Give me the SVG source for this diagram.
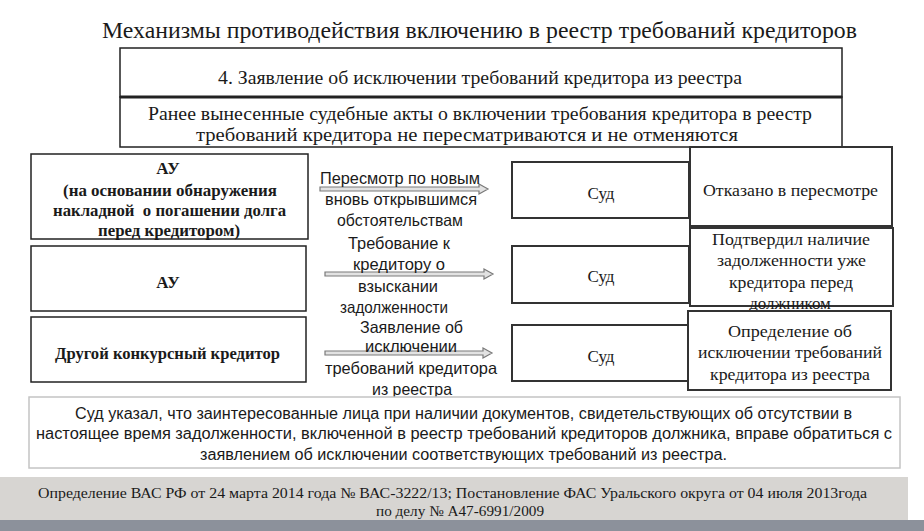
<svg xmlns="http://www.w3.org/2000/svg" width="924" height="531" viewBox="0 0 924 531">
<style>
.bx{fill:#fff;stroke:#222;stroke-width:1.5}
.rb{fill:#fff;stroke:#333;stroke-width:2}
.tm{font-family:"Liberation Serif","Times New Roman",serif;fill:#1a1a1a}
.bd{font-family:"Liberation Serif","Times New Roman",serif;font-weight:bold;fill:#1a1a1a;font-size:17px}
.sn{font-family:"Liberation Sans",Arial,sans-serif;fill:#1a1a1a}
.lbl{font-family:"Liberation Sans",Arial,sans-serif;fill:#1a1a1a;font-size:16.5px}
.arr{fill:#e2e2e2;stroke:#7a7a7a;stroke-width:1.2;stroke-linejoin:miter}
.c{text-anchor:middle}
</style>
<rect width="924" height="531" fill="#fff"/>
<text id="title" class="tm" font-family="Liberation Serif, Times New Roman, serif" x="102" y="38" font-size="23" textLength="755" lengthAdjust="spacingAndGlyphs">Механизмы противодействия включению в реестр требований кредиторов</text>

<g id="node-header" font-family="Liberation Serif, Times New Roman, serif">
<rect class="bx" x="120" y="48" width="722" height="49"/>
<text class="tm" x="218" y="84" font-size="18" textLength="524" lengthAdjust="spacingAndGlyphs">4. Заявление об исключении требований кредитора из реестра</text>
</g>
<g id="node-note" font-family="Liberation Serif, Times New Roman, serif">
<rect class="bx" x="120" y="97" width="722" height="50"/>
<line x1="120" y1="97" x2="842" y2="97" stroke="#222" stroke-width="2.8"/>
<text class="tm" x="148" y="120" font-size="18" textLength="664" lengthAdjust="spacingAndGlyphs">Ранее вынесенные судебные акты о включении требования кредитора в реестр</text>
<text class="tm" x="196" y="141" font-size="18" textLength="542" lengthAdjust="spacingAndGlyphs">требований кредитора не пересматриваются и не отменяются</text>
</g>

<g id="node-au1">
<rect class="bx" x="31" y="154" width="277" height="85"/>
<text class="bd c" x="168" y="174">АУ</text>
<text class="bd" x="63" y="196" textLength="214" lengthAdjust="spacingAndGlyphs">(на основании обнаружения</text>
<text class="bd" x="53" y="216" textLength="233" lengthAdjust="spacingAndGlyphs" xml:space="preserve">накладной  о погашении долга</text>
<text class="bd" x="98" y="236" textLength="142" lengthAdjust="spacingAndGlyphs">перед кредитором)</text>
</g>
<g id="node-au2">
<rect class="bx" x="31" y="246" width="275" height="65"/>
<text class="bd c" x="168" y="288">АУ</text>
</g>
<g id="node-creditor">
<rect class="bx" x="31" y="317" width="275" height="65"/>
<text class="bd" x="55" y="359" textLength="225" lengthAdjust="spacingAndGlyphs">Другой конкурсный кредитор</text>
</g>

<g id="node-court1" font-family="Liberation Serif, Times New Roman, serif">
<rect class="rb" x="512" y="162" width="177" height="56"/>
<text class="tm c" x="601" y="199" font-size="17">Суд</text>
</g>
<g id="node-court2" font-family="Liberation Serif, Times New Roman, serif">
<rect class="rb" x="512" y="246" width="177" height="57"/>
<text class="tm c" x="601" y="282" font-size="17">Суд</text>
</g>
<g id="node-court3" font-family="Liberation Serif, Times New Roman, serif">
<rect class="rb" x="512" y="325" width="176" height="56"/>
<text class="tm c" x="601" y="362" font-size="17">Суд</text>
</g>

<g id="node-res1" font-family="Liberation Serif, Times New Roman, serif">
<rect class="rb" x="690" y="147" width="202" height="79"/>
<text class="tm" x="703" y="196" font-size="17" textLength="175" lengthAdjust="spacingAndGlyphs">Отказано в пересмотре</text>
</g>
<g id="node-res2" font-family="Liberation Serif, Times New Roman, serif">
<rect class="rb" x="690" y="228" width="203" height="78"/>
<text class="tm" x="712" y="245" font-size="17" textLength="158" lengthAdjust="spacingAndGlyphs">Подтвердил наличие</text>
<text class="tm" x="717" y="266" font-size="17" textLength="149" lengthAdjust="spacingAndGlyphs">задолженности уже</text>
<text class="tm" x="729" y="288" font-size="17" textLength="124" lengthAdjust="spacingAndGlyphs">кредитора перед</text>
<text class="tm c" x="790" y="309" font-size="17">должником</text>
</g>
<g id="node-res3" font-family="Liberation Serif, Times New Roman, serif">
<rect class="rb" x="688" y="311" width="203" height="79"/>
<text class="tm" x="728" y="337" font-size="17" textLength="124" lengthAdjust="spacingAndGlyphs">Определение об</text>
<text class="tm" x="698" y="358" font-size="17" textLength="184" lengthAdjust="spacingAndGlyphs">исключении требований</text>
<text class="tm" x="710" y="380" font-size="17" textLength="160" lengthAdjust="spacingAndGlyphs">кредитора из реестра</text>
</g>

<g id="connectors">
<polygon class="arr" points="320,187 479,187 479,184 488,189 479,194 479,191 320,191"/>
<polygon class="arr" points="325,272 484,272 484,269 493,274 484,279 484,276 325,276"/>
<polygon class="arr" points="325,351 483,351 483,348 492,353 483,358 483,355 325,355"/>
<g id="connector-labels">
<text class="lbl" x="320" y="184" textLength="160" lengthAdjust="spacingAndGlyphs">Пересмотр по новым</text>
<text class="lbl" x="325" y="205" textLength="152" lengthAdjust="spacingAndGlyphs">вновь открывшимся</text>
<text class="lbl" x="337" y="226" textLength="126" lengthAdjust="spacingAndGlyphs">обстоятельствам</text>
<text class="lbl" x="348" y="249" textLength="102" lengthAdjust="spacingAndGlyphs">Требование к</text>
<text class="lbl" x="353" y="270" textLength="92" lengthAdjust="spacingAndGlyphs">кредитору о</text>
<text class="lbl" x="358" y="292" textLength="80" lengthAdjust="spacingAndGlyphs">взыскании</text>
<text class="lbl" x="340" y="313" textLength="108" lengthAdjust="spacingAndGlyphs">задолженности</text>
<text class="lbl" x="360" y="333" textLength="103" lengthAdjust="spacingAndGlyphs">Заявление об</text>
<text class="lbl" x="365" y="352" textLength="92" lengthAdjust="spacingAndGlyphs">исключении</text>
<text class="lbl" x="325" y="374" textLength="172" lengthAdjust="spacingAndGlyphs">требований кредитора</text>
<text class="lbl" x="372" y="395" textLength="80" lengthAdjust="spacingAndGlyphs">из реестра</text>
</g>
</g>

<g id="node-court-said">
<rect x="29" y="397" width="871" height="71" fill="#fff" stroke="#c4c4c4" stroke-width="1.5"/>
<text class="sn" x="75" y="419" font-size="16" textLength="777" lengthAdjust="spacingAndGlyphs">Суд указал, что заинтересованные лица при наличии документов, свидетельствующих об отсутствии в</text>
<text class="sn" x="36" y="439" font-size="16" textLength="856" lengthAdjust="spacingAndGlyphs">настоящее время задолженности, включенной в реестр требований кредиторов должника, вправе обратиться с</text>
<text class="sn" x="200" y="460" font-size="16" textLength="527" lengthAdjust="spacingAndGlyphs">заявлением об исключении соответствующих требований из реестра.</text>
</g>

<g id="node-citation" font-family="Liberation Serif, Times New Roman, serif">
<rect x="0" y="477" width="908" height="43" fill="#d7d5d2"/>
<rect x="0" y="520" width="924" height="11" fill="#8c919b"/>
<text class="tm" x="38" y="498" font-size="15" textLength="829" lengthAdjust="spacingAndGlyphs">Определение ВАС РФ от 24 марта 2014 года № ВАС-3222/13; Постановление ФАС Уральского округа от 04 июля 2013года</text>
<text class="tm" x="376" y="516" font-size="15" textLength="168" lengthAdjust="spacingAndGlyphs">по делу № А47-6991/2009</text>
</g>
</svg>
